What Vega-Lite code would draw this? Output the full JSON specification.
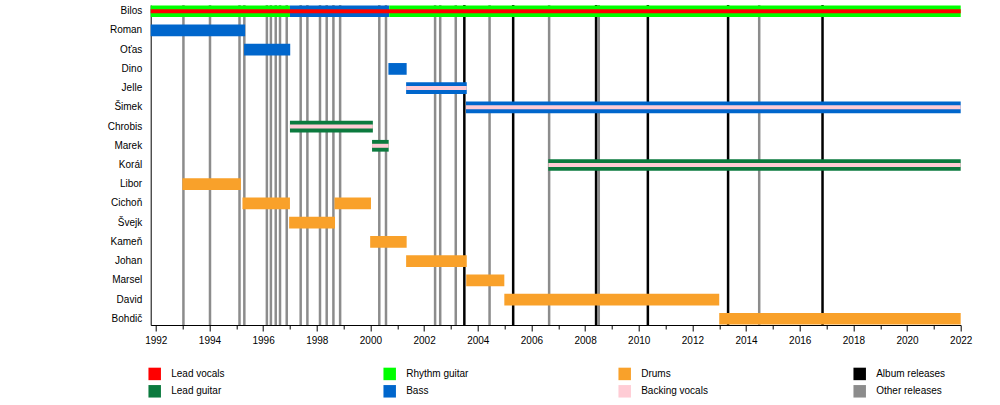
{
  "$schema": "https://vega.github.io/schema/vega-lite/v6.json",
  "width": 810,
  "height": 320,
  "autosize": {"type": "none"},
  "padding": {"left": 150.7, "top": 5, "right": 39.3, "bottom": 80},
  "config": {"view": {"stroke": null}, "font": "Liberation Sans"},
  "datasets": {
    "members": [
      {"member": "Bilos", "part": "main", "role": "Rhythm guitar", "start": 1991.81, "end": 1997.0},
      {"member": "Bilos", "part": "main", "role": "Bass", "start": 1997.0, "end": 2000.7},
      {"member": "Bilos", "part": "main", "role": "Rhythm guitar", "start": 2000.7, "end": 2022},
      {"member": "Bilos", "part": "stripe", "role": "Lead vocals", "start": 1991.81, "end": 2022},
      {"member": "Roman", "part": "main", "role": "Bass", "start": 1991.81, "end": 1995.33},
      {"member": "Oťas", "part": "main", "role": "Bass", "start": 1995.29, "end": 1997.01},
      {"member": "Dino", "part": "main", "role": "Bass", "start": 2000.67, "end": 2001.35},
      {"member": "Jelle", "part": "main", "role": "Bass", "start": 2001.33, "end": 2003.59},
      {"member": "Jelle", "part": "stripe", "role": "Backing vocals", "start": 2001.33, "end": 2003.59},
      {"member": "Šimek", "part": "main", "role": "Bass", "start": 2003.56, "end": 2022},
      {"member": "Šimek", "part": "stripe", "role": "Backing vocals", "start": 2003.56, "end": 2022},
      {"member": "Chrobis", "part": "main", "role": "Lead guitar", "start": 1997.0, "end": 2000.09},
      {"member": "Chrobis", "part": "stripe", "role": "Backing vocals", "start": 1997.0, "end": 2000.09},
      {"member": "Marek", "part": "main", "role": "Lead guitar", "start": 2000.06, "end": 2000.68},
      {"member": "Marek", "part": "stripe", "role": "Backing vocals", "start": 2000.06, "end": 2000.68},
      {"member": "Korál", "part": "main", "role": "Lead guitar", "start": 2006.63, "end": 2022},
      {"member": "Korál", "part": "stripe", "role": "Backing vocals", "start": 2006.63, "end": 2022},
      {"member": "Libor", "part": "main", "role": "Drums", "start": 1992.99, "end": 1995.17},
      {"member": "Cichoň", "part": "main", "role": "Drums", "start": 1995.23, "end": 1997.0},
      {"member": "Cichoň", "part": "main", "role": "Drums", "start": 1998.66, "end": 2000.02},
      {"member": "Švejk", "part": "main", "role": "Drums", "start": 1996.97, "end": 1998.68},
      {"member": "Kameň", "part": "main", "role": "Drums", "start": 1999.99, "end": 2001.35},
      {"member": "Johan", "part": "main", "role": "Drums", "start": 2001.33, "end": 2003.59},
      {"member": "Marsel", "part": "main", "role": "Drums", "start": 2003.57, "end": 2004.99},
      {"member": "David", "part": "main", "role": "Drums", "start": 2004.99, "end": 2013.0},
      {"member": "Bohdič", "part": "main", "role": "Drums", "start": 2013.0, "end": 2022}
    ],
    "releases": [
      {"year": 1993.03, "kind": "Other releases"},
      {"year": 1994.02, "kind": "Other releases"},
      {"year": 1995.12, "kind": "Other releases"},
      {"year": 1995.30, "kind": "Other releases"},
      {"year": 1996.14, "kind": "Other releases"},
      {"year": 1996.29, "kind": "Other releases"},
      {"year": 1996.47, "kind": "Other releases"},
      {"year": 1996.63, "kind": "Other releases"},
      {"year": 1996.88, "kind": "Other releases"},
      {"year": 1997.40, "kind": "Other releases"},
      {"year": 1997.65, "kind": "Other releases"},
      {"year": 1998.12, "kind": "Other releases"},
      {"year": 1998.37, "kind": "Other releases"},
      {"year": 1998.62, "kind": "Other releases"},
      {"year": 1998.87, "kind": "Other releases"},
      {"year": 2000.33, "kind": "Other releases"},
      {"year": 2000.58, "kind": "Other releases"},
      {"year": 2002.41, "kind": "Other releases"},
      {"year": 2002.60, "kind": "Other releases"},
      {"year": 2003.18, "kind": "Other releases"},
      {"year": 2004.44, "kind": "Other releases"},
      {"year": 2006.66, "kind": "Other releases"},
      {"year": 2008.51, "kind": "Other releases"},
      {"year": 2014.49, "kind": "Other releases"},
      {"year": 2003.50, "kind": "Album releases"},
      {"year": 2005.32, "kind": "Album releases"},
      {"year": 2008.41, "kind": "Album releases"},
      {"year": 2010.34, "kind": "Album releases"},
      {"year": 2013.33, "kind": "Album releases"},
      {"year": 2016.85, "kind": "Album releases"}
    ]
  },
  "resolve": {"axis": {"x": "independent"}},
  "layer": [
    {
      "data": {"name": "releases"},
      "mark": {"type": "rule", "strokeWidth": 2.5},
      "encoding": {
        "x": {
          "field": "year",
          "type": "quantitative",
          "scale": {"domain": [1991.81, 2022], "nice": false, "zero": false},
          "axis": {
            "orient": "bottom",
            "title": null,
            "values": [1992, 1994, 1996, 1998, 2000, 2002, 2004, 2006, 2008, 2010, 2012, 2014, 2016, 2018, 2020, 2022],
            "format": "d",
            "grid": false,
            "tickSize": 6,
            "tickColor": "black",
            "domainColor": "black",
            "labelPadding": 4,
            "labelFontSize": 10,
            "labelColor": "black",
            "labelFlush": false
          }
        },
        "color": {
          "field": "kind",
          "type": "nominal",
          "scale": {
            "domain": ["Lead vocals", "Lead guitar", "Rhythm guitar", "Bass", "Drums", "Backing vocals", "Album releases", "Other releases"],
            "range": ["#ff0000", "#0b7a3e", "#00ff00", "#0066cc", "#f9a12a", "#ffccd5", "#000000", "#8c8c8c"]
          },
          "legend": {
            "orient": "none",
            "legendX": -2.5,
            "legendY": 362.3,
            "columns": 4,
            "title": null,
            "symbolType": "square",
            "symbolSize": 156,
            "symbolStrokeWidth": 0,
            "symbolOpacity": 1,
            "labelFontSize": 10,
            "labelColor": "black",
            "labelOffset": 10,
            "rowPadding": 4.5,
            "columnPadding": 143,
            "gridAlign": "all"
          }
        }
      }
    },
    {
      "data": {"name": "members"},
      "transform": [{"filter": "datum.part == 'main'"}],
      "mark": {"type": "bar"},
      "encoding": {
        "y": {
          "field": "member",
          "type": "nominal",
          "scale": {
            "domain": ["Bilos", "Roman", "Oťas", "Dino", "Jelle", "Šimek", "Chrobis", "Marek", "Korál", "Libor", "Cichoň", "Švejk", "Kameň", "Johan", "Marsel", "David", "Bohdič"],
            "paddingInner": 0.39,
            "paddingOuter": 0.02
          },
          "axis": {
            "title": null,
            "ticks": false,
            "grid": false,
            "labelPadding": 9,
            "labelFontSize": 10,
            "labelColor": "black",
            "domainColor": "black"
          }
        },
        "x": {
          "field": "start",
          "type": "quantitative",
          "axis": {
            "orient": "bottom",
            "title": null,
            "values": [1993, 1995, 1997, 1999, 2001, 2003, 2005, 2007, 2009, 2011, 2013, 2015, 2017, 2019, 2021],
            "labels": false,
            "domain": false,
            "grid": false,
            "tickSize": 4,
            "tickColor": "black"
          }
        },
        "x2": {"field": "end"},
        "color": {"field": "role", "type": "nominal"}
      }
    },
    {
      "data": {"name": "members"},
      "transform": [{"filter": "datum.part == 'stripe'"}],
      "mark": {"type": "bar", "height": 4},
      "encoding": {
        "y": {"field": "member", "type": "nominal"},
        "x": {"field": "start", "type": "quantitative", "axis": null},
        "x2": {"field": "end"},
        "color": {"field": "role", "type": "nominal"}
      }
    }
  ]
}
